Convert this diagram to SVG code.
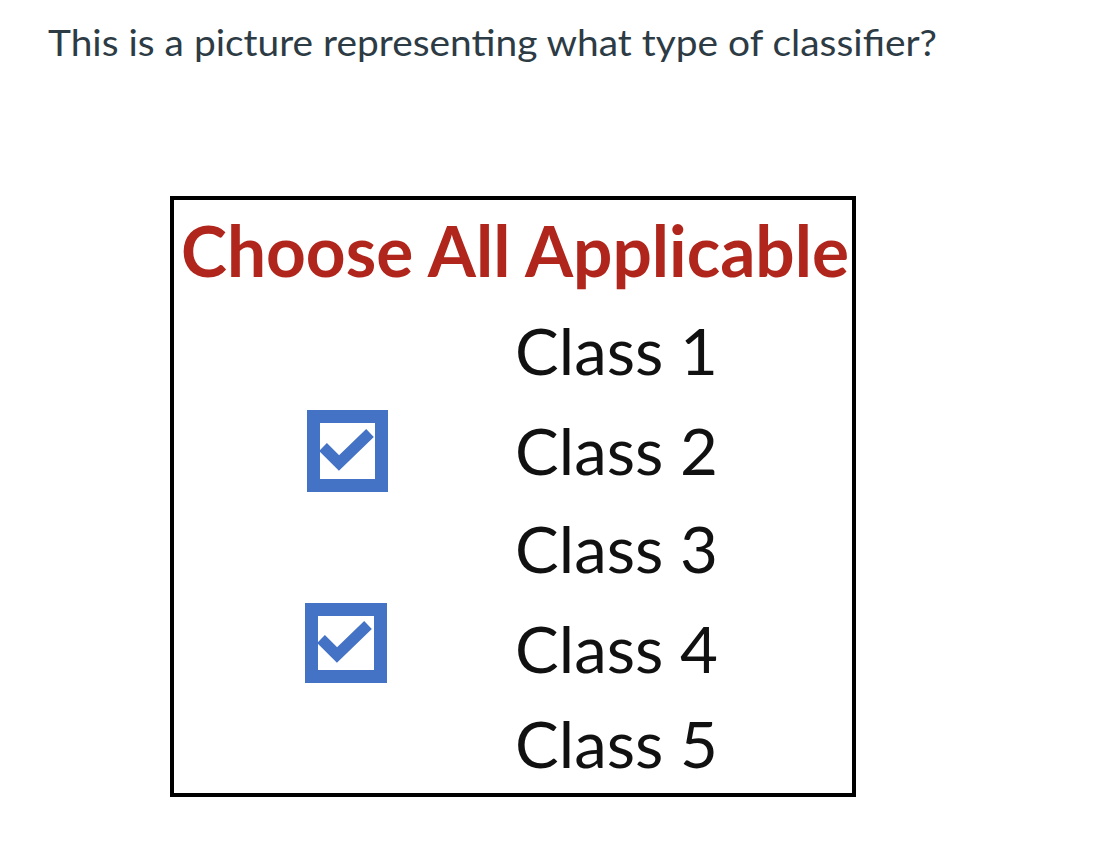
<svg xmlns="http://www.w3.org/2000/svg" width="1120" height="862" viewBox="0 0 1120 862">
<style>
.q{font-family:Lato,"Liberation Sans",sans-serif;font-size:37px;fill:#2d3b45}
.h{font-family:Lato,"Open Sans",sans-serif;font-weight:bold;font-size:70px;fill:#b0261c}
.c{font-family:Lato,"Open Sans",sans-serif;font-size:63px;fill:#111}
.cb{fill:none;stroke:#4472c4;stroke-width:13}
.ck{fill:none;stroke:#4472c4;stroke-width:11;stroke-linejoin:miter;stroke-linecap:butt}
</style>
<rect width="1120" height="862" fill="#fff"/>
<text class="q" x="48" y="56" textLength="889" lengthAdjust="spacingAndGlyphs">This is a picture representing what type of classifier?</text>
<g id="panel">
<rect x="172" y="198" width="682" height="597" fill="#fff" stroke="#000" stroke-width="4"/>
<text class="h" x="181" y="277" textLength="668" lengthAdjust="spacingAndGlyphs">Choose All Applicable</text>
</g>
<g id="class1"><text class="c" x="515" y="375" textLength="203" lengthAdjust="spacingAndGlyphs">Class 1</text></g>
<g id="class2">
<rect class="cb" x="313.5" y="416.5" width="68" height="69"/>
<polyline class="ck" points="323,447 339,463 370,433"/>
<text class="c" x="515" y="475" textLength="203" lengthAdjust="spacingAndGlyphs">Class 2</text></g>
<g id="class3"><text class="c" x="515" y="573" textLength="203" lengthAdjust="spacingAndGlyphs">Class 3</text></g>
<g id="class4">
<rect class="cb" x="311.5" y="609.5" width="69" height="67"/>
<polyline class="ck" points="321,639 337,655 368,625"/>
<text class="c" x="515" y="673" textLength="203" lengthAdjust="spacingAndGlyphs">Class 4</text></g>
<g id="class5"><text class="c" x="515" y="768" textLength="203" lengthAdjust="spacingAndGlyphs">Class 5</text></g>
</svg>
